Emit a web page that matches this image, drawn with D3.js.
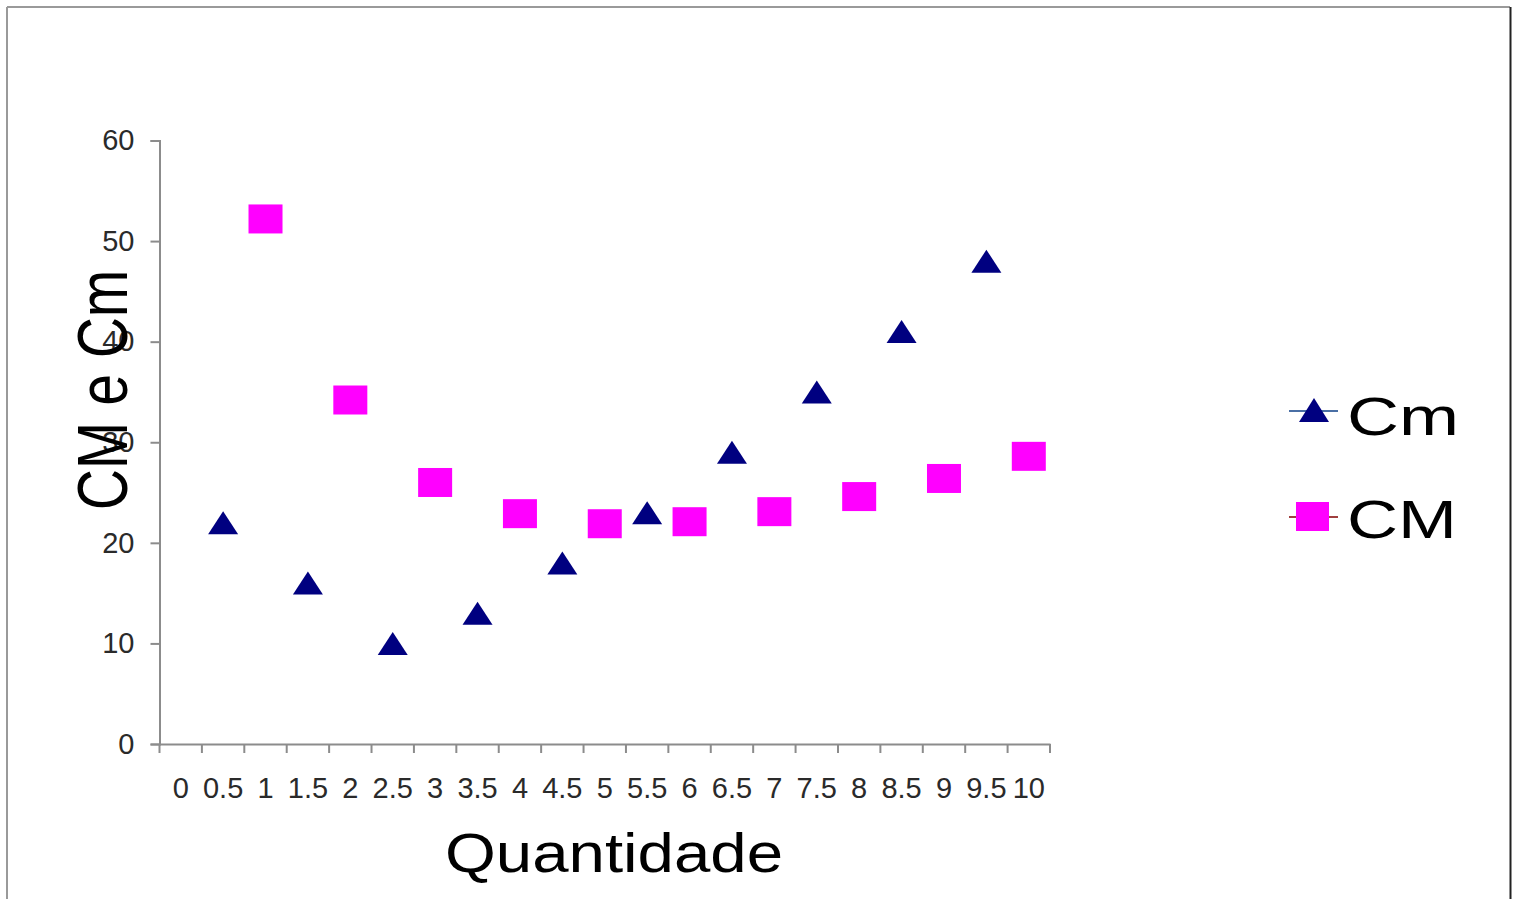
<!DOCTYPE html>
<html>
<head>
<meta charset="utf-8">
<script src="https://cdn.jsdelivr.net/npm/d3@7"></script>
<style>
  html, body { margin: 0; padding: 0; background: #fff; overflow: hidden; }
  svg { display: block; font-family: "Liberation Sans", Arial, sans-serif; }
</style>
</head>
<body>
<svg id="chart" width="1516" height="899"></svg>
<script>
// ---- data ----
const categories = ["0","0.5","1","1.5","2","2.5","3","3.5","4","4.5","5","5.5","6","6.5","7","7.5","8","8.5","9","9.5","10"];
const yTicks = [0, 10, 20, 30, 40, 50, 60];
const cmCategories = ["0.5","1.5","2.5","3.5","4.5","5.5","6.5","7.5","8.5","9.5"];
const cmValues = [22, 16, 10, 13, 18, 23, 29, 35, 41, 48];
const CMCategories = ["1","2","3","4","5","6","7","8","9","10"];
const CMValues = [52.2, 34.2, 26.0, 22.9, 21.9, 22.1, 23.1, 24.6, 26.4, 28.6];
const seriesNames = ["Cm", "CM"];
const xTitle = "Quantidade";
const yTitle = "CM e Cm";

// ---- layout ----
const svg = d3.select("#chart");
const plotLeft = 159.5, plotRight = 1050, plotTop = 140.5, plotBottom = 744;

// frame
svg.append("line").attr("x1", 7).attr("y1", 7).attr("x2", 1510).attr("y2", 7)
  .attr("stroke", "#9a9a9a").attr("stroke-width", 2);
svg.append("line").attr("x1", 7).attr("y1", 7).attr("x2", 7).attr("y2", 899)
  .attr("stroke", "#9a9a9a").attr("stroke-width", 2);
svg.append("line").attr("x1", 1510.5).attr("y1", 7).attr("x2", 1510.5).attr("y2", 899)
  .attr("stroke", "#222").attr("stroke-width", 2);

const x = d3.scaleBand().domain(categories).range([plotLeft, plotRight]).paddingInner(0).paddingOuter(0);
const y = d3.scaleLinear().domain([0, 60]).range([plotBottom, plotTop]);
const axisColor = "#8c8c8c";

// y axis
const gy = svg.append("g").attr("transform", `translate(${plotLeft},0)`)
  .call(d3.axisLeft(y).tickValues(yTicks).tickSize(9).tickSizeOuter(9).tickPadding(16));
gy.select(".domain").attr("stroke", axisColor).attr("stroke-width", 2);
gy.selectAll(".tick line").attr("stroke", axisColor).attr("stroke-width", 2);
gy.selectAll(".tick text").attr("font-size", 29).attr("fill", "#2a2a2a")
  .attr("font-family", "'Liberation Sans', Arial, sans-serif");

// x axis (labels at band centers)
const gx = svg.append("g").attr("transform", `translate(0,${plotBottom})`)
  .call(d3.axisBottom(x).tickSize(0).tickPadding(44));
gx.select(".domain").attr("stroke", axisColor).attr("stroke-width", 2);
gx.selectAll(".tick text").attr("font-size", 29).attr("fill", "#2a2a2a")
  .attr("font-family", "'Liberation Sans', Arial, sans-serif")
  .attr("dy", 0).attr("y", 54);
// tick marks at band boundaries
const boundaries = categories.map(c => x(c)).concat([x.range()[1]]);
svg.append("g").selectAll("line").data(boundaries).join("line")
  .attr("x1", d => d).attr("x2", d => d)
  .attr("y1", plotBottom).attr("y2", plotBottom + 9)
  .attr("stroke", axisColor).attr("stroke-width", 2);

// markers
const triW = 30, triH = 23;
const sqW = 34, sqH = 29;
const cmData = cmCategories.map((c, i) => ({ c, v: cmValues[i] }));
const CMData = CMCategories.map((c, i) => ({ c, v: CMValues[i] }));

svg.append("g").selectAll("rect").data(CMData).join("rect")
  .attr("x", d => x(d.c) + x.bandwidth() / 2 - sqW / 2)
  .attr("y", d => y(d.v) - sqH / 2)
  .attr("width", sqW).attr("height", sqH)
  .attr("fill", "#ff00ff");

svg.append("g").selectAll("path").data(cmData).join("path")
  .attr("d", d => {
    const cx = x(d.c) + x.bandwidth() / 2, cy = y(d.v);
    return `M${cx},${cy - triH / 2}L${cx + triW / 2},${cy + triH / 2}L${cx - triW / 2},${cy + triH / 2}Z`;
  })
  .attr("fill", "#000080");

// axis titles
svg.append("text").text(xTitle)
  .attr("x", 614).attr("y", 872)
  .attr("text-anchor", "middle")
  .attr("font-size", 56).attr("fill", "#000")
  .attr("textLength", 338).attr("lengthAdjust", "spacingAndGlyphs");

svg.append("text").text(yTitle)
  .attr("transform", "translate(127,390) scale(1.23,1) rotate(-90)")
  .attr("text-anchor", "middle")
  .attr("font-size", 57).attr("fill", "#000");

// legend
const lg = svg.append("g");
// Cm
lg.append("line").attr("x1", 1289).attr("x2", 1338).attr("y1", 411).attr("y2", 411)
  .attr("stroke", "#4a6fa5").attr("stroke-width", 2);
lg.append("path").attr("d", `M1314,398L1329,422L1299,422Z`).attr("fill", "#000080");
lg.append("text").text(seriesNames[0]).attr("x", 1347).attr("y", 435)
  .attr("font-size", 54).attr("fill", "#000")
  .attr("textLength", 112).attr("lengthAdjust", "spacingAndGlyphs");
// CM
lg.append("line").attr("x1", 1289).attr("x2", 1338).attr("y1", 517).attr("y2", 517)
  .attr("stroke", "#a0403f").attr("stroke-width", 2);
lg.append("rect").attr("x", 1296).attr("y", 502).attr("width", 33).attr("height", 29).attr("fill", "#ff00ff");
lg.append("text").text(seriesNames[1]).attr("x", 1347).attr("y", 538)
  .attr("font-size", 54).attr("fill", "#000")
  .attr("textLength", 110).attr("lengthAdjust", "spacingAndGlyphs");
</script>
</body>
</html>
